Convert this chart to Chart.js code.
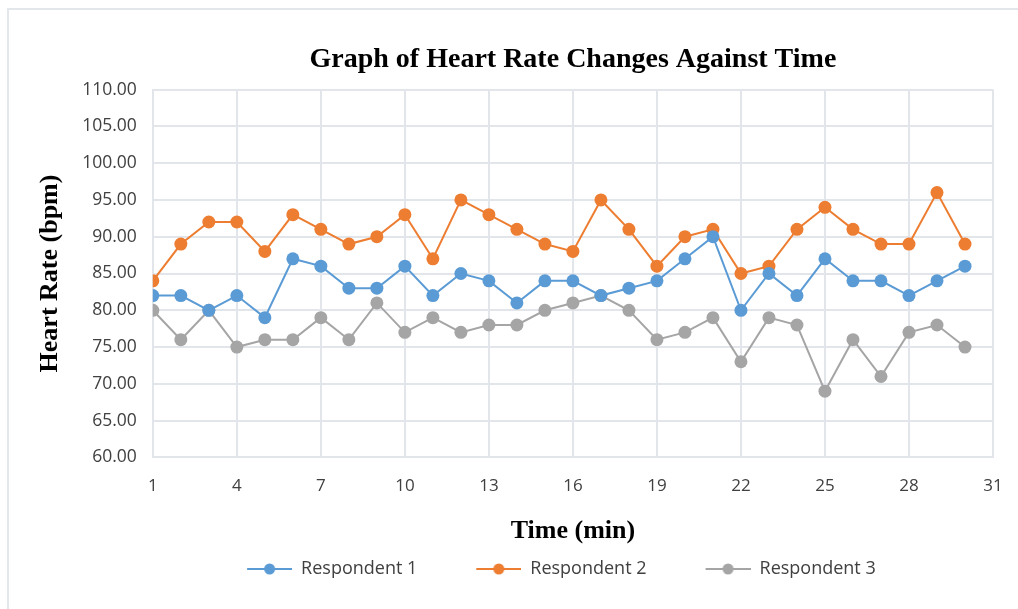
<!DOCTYPE html>
<html>
<head>
<meta charset="utf-8">
<script src="https://cdn.jsdelivr.net/npm/chart.js@4.4.0/dist/chart.umd.min.js"></script>
<style>
html, body { margin: 0; padding: 0; background: #fff; }
#wrap { position: relative; width: 1018px; height: 609px; overflow: hidden; }
#frame { position: absolute; left: 7px; top: 8px; right: -10px; bottom: -10px;
         border-top: 2px solid #e3e6ea; border-left: 2px solid #e3e6ea; }
canvas { position: absolute; left: 0; top: 0; }
</style>
</head>
<body>
<div id="wrap">
  <div id="frame"></div>
  <canvas id="graficoPulso" width="1018" height="609"></canvas>
</div>
<script>
// Minutos (eje X) y pulso de cada persona
const minutos = [1, 2, 3, 4, 5, 6, 7, 8, 9, 10, 11, 12, 13, 14, 15,
                 16, 17, 18, 19, 20, 21, 22, 23, 24, 25, 26, 27, 28, 29, 30];
const respondent1 = [82, 82, 80, 82, 79, 87, 86, 83, 83, 86, 82, 85, 84, 81, 84,
                     84, 82, 83, 84, 87, 90, 80, 85, 82, 87, 84, 84, 82, 84, 86];
const respondent2 = [84, 89, 92, 92, 88, 93, 91, 89, 90, 93, 87, 95, 93, 91, 89,
                     88, 95, 91, 86, 90, 91, 85, 86, 91, 94, 91, 89, 89, 96, 89];
const respondent3 = [80, 76, 80, 75, 76, 76, 79, 76, 81, 77, 79, 77, 78, 78, 80,
                     81, 82, 80, 76, 77, 79, 73, 79, 78, 69, 76, 71, 77, 78, 75];
const nombres = ['Respondent 1', 'Respondent 2', 'Respondent 3'];
const ticksX = [1, 4, 7, 10, 13, 16, 19, 22, 25, 28, 31];
const ticksY = [60, 65, 70, 75, 80, 85, 90, 95, 100, 105, 110];

const colores = ['#5B9BD5', '#ED7D31', '#A5A5A5'];
const fuenteTexto = "'Open Sans', 'Noto Sans', sans-serif";
const fuenteTitulo = "'Liberation Serif', 'DejaVu Serif', serif";

// marcador de la leyenda estilo Excel: linea con punto
function marcadorLeyenda(color) {
    const c = document.createElement('canvas');
    c.width = 58;
    c.height = 14;
    const g = c.getContext('2d');
    g.strokeStyle = color;
    g.lineWidth = 2;
    g.beginPath();
    g.moveTo(13, 7);
    g.lineTo(58, 7);
    g.stroke();
    g.fillStyle = color;
    g.beginPath();
    g.arc(35.5, 7, 5.5, 0, Math.PI * 2);
    g.fill();
    return c;
}
const marcadores = colores.map(marcadorLeyenda);

function serie(valores, i) {
    return {
        label: nombres[i],
        data: minutos.map((m, k) => ({ x: m, y: valores[k] })),
        borderColor: colores[i],
        backgroundColor: colores[i],
        borderWidth: 2,
        pointRadius: 6.5,
        pointHoverRadius: 6.5,
        pointBorderWidth: 0,
        tension: 0
    };
}

const ctxPulso = document.getElementById('graficoPulso').getContext('2d');

new Chart(ctxPulso, {
    type: 'line',
    data: {
        datasets: [serie(respondent1, 0), serie(respondent2, 1), serie(respondent3, 2)]
    },
    options: {
        responsive: false,
        animation: false,
        layout: { padding: { left: 0, right: 25, top: 0, bottom: 21 } },
        plugins: {
            title: {
                display: true,
                text: 'Graph of Heart Rate Changes Against Time',
                fullSize: false,
                color: '#000',
                font: { family: fuenteTitulo, size: 28, weight: 'bold' },
                padding: { top: 43, bottom: 13 }
            },
            legend: {
                position: 'bottom',
                fullSize: false,
                labels: {
                    usePointStyle: true,
                    pointStyleWidth: 58,
                    padding: 10,
                    color: '#404040',
                    font: { family: fuenteTexto, size: 18 },
                    generateLabels: chart => chart.data.datasets.map((ds, i) => ({
                        text: ds.label + '\u2003\u2003',
                        pointStyle: marcadores[i],
                        fillStyle: ds.borderColor,
                        strokeStyle: ds.borderColor,
                        lineWidth: 0,
                        fontColor: '#404040',
                        hidden: !chart.isDatasetVisible(i),
                        datasetIndex: i
                    }))
                }
            },
            tooltip: { enabled: false }
        },
        scales: {
            x: {
                type: 'linear',
                min: 1,
                max: 31,
                afterBuildTicks: axis => { axis.ticks = ticksX.map(v => ({ value: v })); },
                // el padding de los ticks no debe empujar el borde derecho
                afterFit: axis => { axis.paddingRight = 10; },
                grid: { color: '#e2e5ea', lineWidth: 2, drawTicks: false },
                border: { color: '#e2e5ea', width: 2 },
                ticks: {
                    padding: 19,
                    maxRotation: 0,
                    autoSkip: false,
                    color: '#404040',
                    font: { family: fuenteTexto, size: 17 }
                },
                title: {
                    display: true,
                    text: 'Time (min)',
                    color: '#000',
                    font: { family: fuenteTitulo, size: 26, weight: 'bold' },
                    padding: { top: 0, bottom: 3 }
                }
            },
            y: {
                min: 60,
                max: 110,
                afterBuildTicks: axis => { axis.ticks = ticksY.map(v => ({ value: v })); },
                grid: { color: '#e2e5ea', lineWidth: 2, drawTicks: false },
                border: { color: '#e2e5ea', width: 2 },
                ticks: {
                    padding: 16,
                    color: '#404040',
                    font: { family: fuenteTexto, size: 17.5 },
                    callback: v => v.toFixed(2)
                },
                title: {
                    display: true,
                    text: 'Heart Rate (bpm)',
                    color: '#000',
                    font: { family: fuenteTitulo, size: 26, weight: 'bold' },
                    padding: { top: 35, bottom: 0 }
                }
            }
        }
    }
});
</script>
</body>
</html>
